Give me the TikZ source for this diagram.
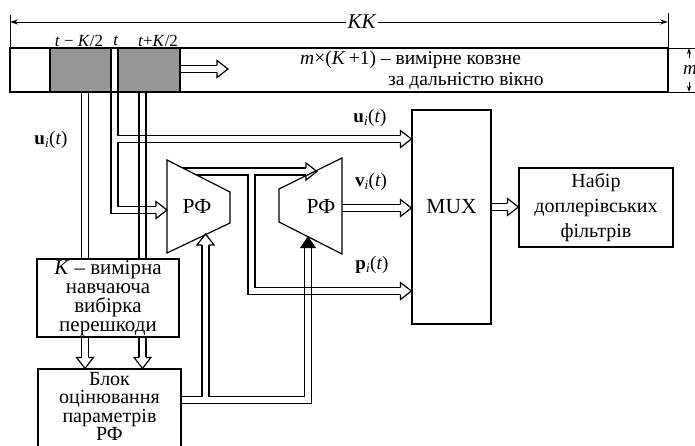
\documentclass[tikz,border=0pt]{standalone}
\usepackage{fontspec}
\setmainfont{Liberation Serif}
\usetikzlibrary{arrows.meta}
\newcommand{\sigvec}[1]{\textbf{#1}\textsubscript{\textit{i}}(\textit{t})}

\begin{document}
\begin{tikzpicture}[x=1pt,y=-1pt,line join=miter,
  chan/.style={line width=1.2pt},
  box/.style={draw,line width=1.2pt,align=center,inner sep=0pt,font=\fontsize{21}{19}\selectfont},
  txt/.style={font=\fontsize{21.5}{20}\selectfont,inner sep=1pt},
  lbl/.style={font=\fontsize{19}{20}\selectfont,inner sep=1pt},
  smalltxt/.style={font=\fontsize{17}{18}\selectfont,inner sep=1pt},
  wintxt/.style={font=\fontsize{19.5}{18}\selectfont,inner sep=0pt},
  dimarrow/.style={line width=0.9pt,-{Stealth[length=8pt,width=5pt]}},
  hhead/.pic={\filldraw[chan,fill=white] (-11,-3.5) -- (-11,-8.5) -- (0,0) -- (-11,8.5) -- (-11,3.5);},
  bhead/.pic={\fill (-12,-8) -- (0,0) -- (-12,8) -- cycle;}]
  \definecolor{cell}{RGB}{150,150,150}
  \useasboundingbox (0,0) rectangle (695,446);

  % ---- sliding range window ----
  \fill[cell] (50,48) rectangle (111,92);
  \fill[cell] (118,48) rectangle (180,92);
  \draw[chan] (50,48) -- (50,92) (111,48) -- (111,92) (118,48) -- (118,92) (180,48) -- (180,92);
  \draw[line width=2.2pt] (10,48) rectangle (668,92);
  \node[smalltxt] (tl) at (79,41) {\textit{t} − \textit{K}/2};
  \node[smalltxt] (tc) at (116,41) {\textit{t}};
  \node[smalltxt] (tr) at (158,41) {\textit{t}+\textit{K}/2};
  \node[wintxt,anchor=west] (win1) at (300,60) {\textit{m}×(\textit{K}\,+1) –\ вимірне ковзне};
  \node[wintxt,anchor=west] (win2) at (388,81) {за дальністю вікно};
  % shift direction
  \draw[chan] (180,65.5) -- (217,65.5) (180,72.5) -- (217,72.5);
  \pic at (228,69) {hhead};

  % ---- dimensions ----
  \node[lbl,font=\fontsize{21}{20}\selectfont] (kk) at (362,22) {\textit{KK}};
  \draw[line width=0.9pt] (10,15) -- (10,48) (668,13) -- (668,48);
  \draw[dimarrow] (kk.west) -- (10,22);
  \draw[dimarrow] (kk.east) -- (668,22);
  \draw[line width=0.9pt] (668,48) -- (695,48) (668,92) -- (695,92);
  \node[lbl] (mm) at (690,70) {\textit{m}};
  \draw[line width=0.9pt,-{Stealth[length=6pt,width=4pt]}] (689,58) -- (689,48);
  \draw[line width=0.9pt,-{Stealth[length=6pt,width=4pt]}] (689,82) -- (689,92);

  % ---- blocks ----
  \node[box,minimum width=142,minimum height=78] (kbox) at (108,298)
    {\textit{K} – вимірна\\навчаюча\\вибірка\\перешкоди};
  \node[box,minimum width=143,minimum height=79] (blok) at (109.5,408.5) {};
  \node[txt,align=center,font=\fontsize{20}{18.5}\selectfont] (bloktxt) at (109.5,406.5)
    {Блок\\оцінювання\\параметрів\\РФ};
  \node[box,minimum width=79,minimum height=214] (mux) at (451.5,217) {};
  \node[txt] (muxlbl) at (451.5,207) {MUX};
  \node[box,minimum width=154,minimum height=79,font=\fontsize{20}{25}\selectfont] (nabir) at (596,207.5)
    {Набір\\доплерівських\\фільтрів};

  % ---- channels from the window ----
  \draw[chan] (81.5,92) -- (81.5,0 |- kbox.north) (88.5,92) -- (88.5,0 |- kbox.north);
  \draw[chan] (139,92) -- (139,0 |- kbox.north) (146,92) -- (146,0 |- kbox.north);
  \draw[chan] (111,92) -- (111,213.5) -- (156,213.5);
  \draw[chan] (118,92) -- (118,135.5) -- (401,135.5);
  \draw[chan] (401,142.5) -- (118,142.5) -- (118,206.5) -- (156,206.5);
  \pic at (mux.west |- 0,139) {hhead};
  \pic at (167,210) {hhead};

  % training sample -> estimator
  \draw[chan] (81.5,0 |- kbox.south) -- (81.5,358) (88.5,0 |- kbox.south) -- (88.5,358);
  \draw[chan] (139,0 |- kbox.south) -- (139,358) (146,0 |- kbox.south) -- (146,358);
  \pic[rotate=-90] at (85,0 |- blok.north) {hhead};
  \pic[rotate=-90] at (142.5,0 |- blok.north) {hhead};

  % estimator -> filters
  \draw[chan] (blok.east |- 0,396.5) -- (202,396.5) -- (202,245);
  \draw[chan] (209,245) -- (209,396.5) -- (304.5,396.5) -- (304.5,248);
  \draw[chan] (blok.east |- 0,403.5) -- (311.5,403.5) -- (311.5,248);
  \pic[rotate=90] at (205.5,234) {hhead};
  \pic[rotate=90] at (308,236) {bhead};

  % first filter -> second filter, and p branch
  \draw[chan] (183,168) -- (306,168);
  \draw[chan] (197,175) -- (248,175) -- (248,294.5) -- (401,294.5);
  \draw[chan] (306,175) -- (255,175) -- (255,287.5) -- (401,287.5);
  \pic at (317,171.5) {hhead};
  \pic at (mux.west |- 0,291) {hhead};

  % second filter -> MUX
  \draw[chan] (342,204.5) -- (401,204.5) (342,211.5) -- (401,211.5);
  \pic at (mux.west |- 0,208) {hhead};

  % MUX -> Doppler filter bank
  \draw[chan] (mux.east |- 0,203.5) -- (508,203.5) (mux.east |- 0,210.5) -- (508,210.5);
  \pic at (nabir.west |- 0,207) {hhead};

  % ---- rejection filters ----
  \draw[chan] (167,160) -- (230,192) -- (230,223) -- (167,253) -- cycle;
  \node[txt] (rf1) at (197,206) {РФ};
  \draw[chan] (279,189) -- (342,158) -- (342,254) -- (279,222) -- cycle;
  \node[txt] (rf2) at (321,206) {РФ};

  % ---- signal labels ----
  \node[lbl] (uleft) at (51,140) {\sigvec{u}};
  \node[lbl] (utop) at (370,118) {\sigvec{u}};
  \node[lbl] (vlab) at (371,182) {\sigvec{v}};
  \node[lbl] (plab) at (372,265) {\sigvec{p}};
\end{tikzpicture}
\end{document}
